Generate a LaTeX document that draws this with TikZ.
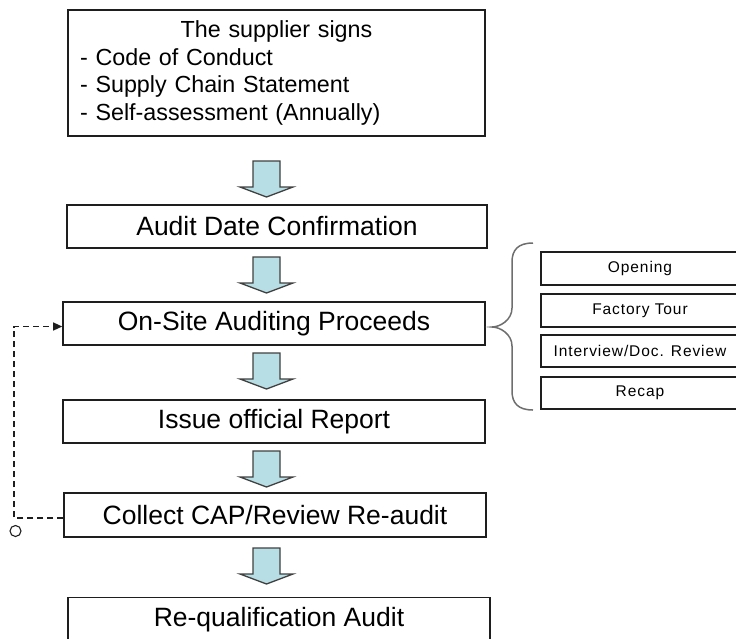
\documentclass[tikz,border=0pt]{standalone}
\usepackage{fontspec}
\setmainfont{Liberation Sans}
\newfontfamily\subfont[LetterSpace=6]{Liberation Sans}
\usetikzlibrary{arrows.meta}
\definecolor{arrowfill}{RGB}{183,222,228}
\definecolor{edgecol}{RGB}{30,30,30}
\definecolor{bracecol}{RGB}{110,110,110}
\tikzset{
  mainbox/.style={draw=edgecol, line width=1.6pt, minimum width=420pt, minimum height=43pt, inner sep=0pt, font=\fontsize{26.5}{30}\selectfont},
  subbox/.style={draw=edgecol, line width=1.5pt, minimum width=198pt, minimum height=32pt, inner sep=0pt, font=\subfont\fontsize{15.5}{18}\selectfont},
  dashline/.style={draw=edgecol, line width=1.3pt, dash pattern=on 6pt off 4pt},
  bracestyle/.style={draw=bracecol, line width=1.5pt},
  barrow/.pic={
    \draw[fill=arrowfill, draw=edgecol!85, line width=1.3pt, line join=miter]
      (-13.5,0) -- (13.5,0) -- (13.5,26) -- (26.5,26) -- (0,36) -- (-26.5,26) -- (-13.5,26) -- cycle;
  }
}
\begin{document}
\begin{tikzpicture}[x=1pt, y=-1pt]
\useasboundingbox (0,0) rectangle (736,638);
\clip (0,0) rectangle (736,638);

% top box
\node[draw=edgecol, line width=1.6pt, minimum width=417pt, minimum height=126pt,
      text width=393pt, inner xsep=12pt, inner ysep=0pt, align=left,
      font=\fontsize{23.3}{27.5}\selectfont] (signs) at (276.5,73)
  {\makebox[\linewidth][c]{The supplier signs}\\- Code of Conduct\\- Supply Chain Statement\\- Self-assessment (Annually)};

% main boxes
\node[mainbox, minimum width=420pt] (date) at (277,226.5) {Audit Date Confirmation};
\node[mainbox, minimum width=422pt] (onsite) at (274,323.5) {On-Site Auditing Proceeds};
\node[mainbox, minimum width=422pt] (report) at (274,421.5) {Issue official Report};
\node[mainbox, minimum width=422pt, minimum height=44pt] (collect) at (275,515) {Collect CAP/Review Re-audit};
\node[mainbox, minimum width=422pt, minimum height=44pt] (requal) at (279,619.5) {Re-qualification Audit};

% block arrows
\pic at (266.5,161) {barrow};
\pic at (266.5,257) {barrow};
\pic at (266.5,353) {barrow};
\pic at (266.5,451) {barrow};
\pic at (266.5,548) {barrow};

% sub steps
\node[subbox, minimum height=33pt] (opening) at (640,268.5) {Opening};
\node[subbox, minimum height=33pt] (tour) at (640,310.5) {Factory Tour};
\node[subbox] (interview) at (640,351) {Interview/Doc. Review};
\node[subbox] (recap) at (640,393) {Recap};

% brace
\draw[bracestyle] (533,243) .. controls (518,243) and (512,250) .. (512,262) -- (512,308)
  .. controls (512,320) and (500,327) .. (492,327)
  .. controls (500,327) and (512,334) .. (512,346) -- (512,391)
  .. controls (512,403) and (518,410) .. (533,410);

% feedback loop
\coordinate (loop) at (14,420);
\draw[dashline, -{Triangle[length=9pt,width=8pt]}] ([yshift=-3pt]collect.west) -| (loop) |- ([yshift=-3pt]onsite.west);
\node[circle, draw=edgecol, line width=1.1pt, minimum size=11pt, inner sep=0pt] (endmark) at (15.5,531) {};
\end{tikzpicture}
\end{document}
